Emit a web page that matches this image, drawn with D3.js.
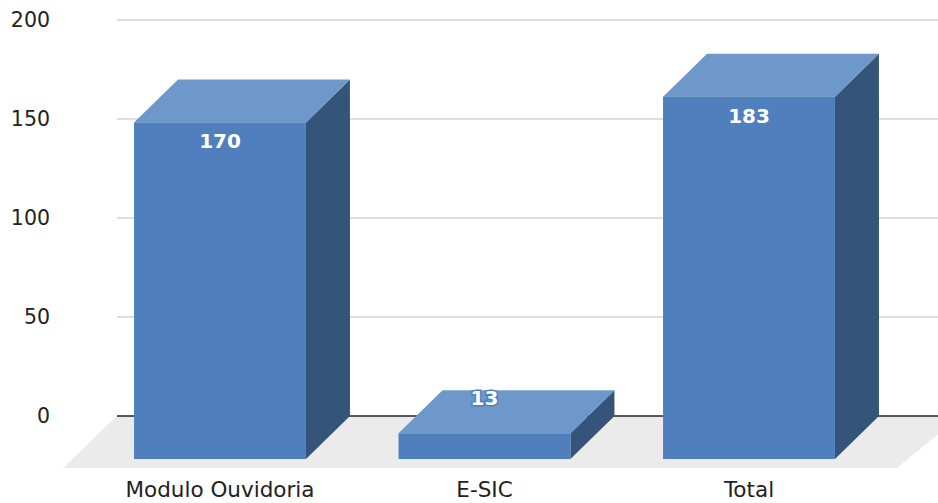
<html>
<script src="https://d3js.org/d3.v7.min.js"></script>
<style>
body {margin:0; background:#fff;}
text {font-family: "DejaVu Sans", Arial, sans-serif;}
</style>
<body>
<svg width=938 height=503></svg>
<script>
var categories = ["Modulo Ouvidoria", "E-SIC", "Total"];
var values = [170, 13, 183];
var yTicks = [0, 50, 100, 150, 200];

var svg = d3.select("svg");
var depthX = 44, depthY = 43;

var x = d3.scaleBand().domain(categories).range([87.75, 881.25])
    .paddingInner(0.35).paddingOuter(0.175);
var y = d3.scaleLinear().domain([0, 200]).range([416, 20]);

// floor
var fl = y(0);
svg.append("polygon")
   .attr("points", [[117, fl], [960, fl], [960 - 52 - 11, fl + 52], [63, fl + 52]].join(" "))
   .attr("fill", "#ebebeb");

// gridlines + axis labels
svg.selectAll(".grid").data(yTicks).enter().append("line")
   .attr("x1", 117).attr("x2", 938)
   .attr("y1", d => y(d)).attr("y2", d => y(d))
   .attr("stroke", d => d === 0 ? "#222" : "#d3d3d3")
   .attr("stroke-width", 1.5);

svg.selectAll(".ylab").data(yTicks).enter().append("text")
   .attr("x", 50).attr("y", d => y(d) + 7)
   .attr("text-anchor", "end").attr("font-size", 20.5).attr("fill", "#222")
   .text(d => d);

// bars
var bars = svg.selectAll(".bar").data(values).enter().append("g");
bars.each(function(v, i) {
  var g = d3.select(this);
  var x0 = x(categories[i]), w = x.bandwidth();
  var yb = y(0) + depthY, yt = y(v) + depthY;
  g.append("polygon")
   .attr("points", [[x0 + w, yb], [x0 + w + depthX, yb - depthY], [x0 + w + depthX, yt - depthY], [x0 + w, yt]].join(" "))
   .attr("fill", "#34547a");
  g.append("polygon")
   .attr("points", [[x0, yt], [x0 + depthX, yt - depthY], [x0 + w + depthX, yt - depthY], [x0 + w, yt]].join(" "))
   .attr("fill", "#6e98ca");
  g.append("rect")
   .attr("x", x0).attr("y", yt).attr("width", w).attr("height", yb - yt)
   .attr("fill", "#4f80bd");
  var big = (yb - yt) > 50;
  g.append("text")
   .attr("x", x0 + w / 2).attr("y", big ? yt + 26 : yt - depthY + 15)
   .attr("text-anchor", "middle").attr("font-size", 20).attr("font-weight", "bold")
   .attr("fill", "#fff")
   .attr("stroke", big ? "none" : "#4f80bd").attr("stroke-width", 3)
   .attr("paint-order", "stroke")
   .text(v);
});

// x labels
svg.selectAll(".xlab").data(categories).enter().append("text")
   .attr("x", d => x(d) + x.bandwidth() / 2).attr("y", 497)
   .attr("text-anchor", "middle").attr("font-size", 21.5).attr("fill", "#222")
   .text(d => d);
</script>
</body>
</html>
